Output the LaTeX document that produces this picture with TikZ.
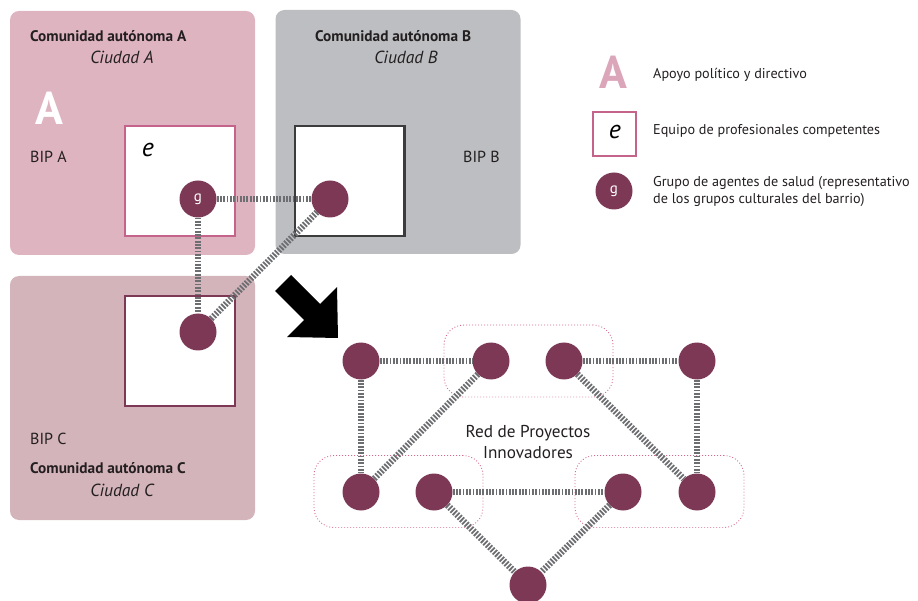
\documentclass[tikz,border=0pt]{standalone}
\usepackage{fontspec}
\setmainfont{PT Sans}
\definecolor{regA}{HTML}{DFB4C1}
\definecolor{regB}{HTML}{BDBEC1}
\definecolor{regC}{HTML}{D4B4BB}
\definecolor{agent}{HTML}{7D3855}
\definecolor{pinkline}{HTML}{C4648A}
\definecolor{darkline}{HTML}{3C3C3C}
\definecolor{legA}{HTML}{DBA6B9}
\definecolor{dotpink}{HTML}{D46A8A}
\definecolor{hatchgray}{HTML}{6D6E71}
\definecolor{txt}{HTML}{231F20}
\begin{document}
\begin{tikzpicture}[x=1pt,y=-1pt,
  region/.style={rounded corners=9pt, minimum width=245pt, minimum height=244pt, inner sep=0pt},
  team/.style={draw, line width=2.5pt, fill=white, minimum width=110pt, minimum height=110pt, inner sep=0pt},
  agent/.style={circle, fill=agent, minimum size=37pt, inner sep=0pt, text=white, font=\fontsize{15}{15}\selectfont},
  hatch/.style={draw=hatchgray, line width=6.5pt, dash pattern=on 1.8pt off 1.5pt},
  group/.style={draw=dotpink, line width=0.9pt, dash pattern=on 0.9pt off 2.1pt, rounded corners=20pt, minimum width=169pt, minimum height=72pt, inner sep=0pt},
  title/.style={font=\fontsize{15.3}{15.3}\selectfont\bfseries, text=txt, inner sep=0pt},
  city/.style={font=\fontsize{17.5}{17.5}\selectfont\itshape, text=txt, inner sep=0pt},
  lbl/.style={font=\fontsize{16}{16}\selectfont, text=txt, inner sep=0pt},
  leg/.style={font=\fontsize{14.2}{17}\selectfont, text=txt, inner sep=0pt, align=left},
  bigA/.style={font=\fontsize{46}{46}\selectfont\bfseries, inner sep=0pt},
  eletter/.style={font=\fontsize{26}{26}\selectfont\itshape, text=black, inner sep=0pt}
]
\useasboundingbox (0,0) rectangle (918,601);
% regions
\node[region, fill=regA] (rA) at (132.5,133) {};
\node[region, fill=regB] (rB) at (398,132) {};
\node[region, fill=regC] (rC) at (132.5,398) {};
% teams
\node[team, draw=pinkline] (tA) at (180,181) {};
\node[team, draw=darkline, minimum width=109.5pt] (tB) at (349.5,181) {};
\node[team, draw=agent] (tC) at (180,351) {};
% texts in regions
\node[title, anchor=west] (cA) at (30,36) {Comunidad autónoma A};
\node[city] (ciA) at (122,57) {Ciudad A};
\node[bigA, text=white] (AA) at (49,108) {A};
\node[lbl, anchor=west] (bipA) at (30,157) {BIP A};
\node[eletter] (eA) at (148,150) {e};
\node[title, anchor=west] (cB) at (315,36) {Comunidad autónoma B};
\node[city] (ciB) at (406,57) {Ciudad B};
\node[lbl, anchor=west] (bipB) at (463,157) {BIP B};
\node[lbl, anchor=west] (bipC) at (30,439) {BIP C};
\node[title, anchor=west] (cC) at (30,468) {Comunidad autónoma C};
\node[city] (ciC) at (122,490) {Ciudad C};
% agents in regions
\node[agent] (gA) at (198,199) {g};
\node[agent] (gB) at (330,199) {};
\node[agent] (gC) at (198,332) {};
\draw[hatch] (gA) -- (gB);
\draw[hatch] (gA) -- (gC);
\draw[hatch] (gC) -- (gB);
% big arrow
\fill[black] (275,291) -- (291,275) -- (320,304) -- (337,287) -- (338,338) -- (287,337) -- (304,320) -- cycle;
% network groups
\node[group] (grp1) at (528.5,361) {};
\node[group] (grp2) at (398.5,491.5) {};
\node[group] (grp3) at (659.5,491.5) {};
% network nodes
\node[agent] (n1) at (361,361) {};
\node[agent] (n2) at (491,361) {};
\node[agent] (n3) at (564,361) {};
\node[agent] (n4) at (697,361) {};
\node[agent] (n5) at (361,492) {};
\node[agent] (n6) at (434,492) {};
\node[agent] (n7) at (623,492) {};
\node[agent] (n8) at (697,492) {};
\node[agent] (n9) at (528,585) {};
\draw[hatch] (n1) -- (n2);
\draw[hatch] (n3) -- (n4);
\draw[hatch] (n1) -- (n5);
\draw[hatch] (n4) -- (n8);
\draw[hatch] (n2) -- (n5);
\draw[hatch] (n3) -- (n8);
\draw[hatch] (n6) -- (n7);
\draw[hatch] (n6) -- (n9);
\draw[hatch] (n7) -- (n9);
\node[font=\fontsize{17.2}{21}\selectfont, text=txt, align=center, inner sep=0pt] (red) at (528,442) {Red de Proyectos\\Innovadores};
% legend
\node[bigA, text=legA] (legAA) at (613,72) {A};
\node[leg, anchor=west] (legAt) at (653,75) {Apoyo político y directivo};
\node[team, draw=pinkline, minimum width=43pt, minimum height=44pt] (legE) at (614.5,134) {};
\node[eletter] (legEe) at (615,132) {e};
\node[leg, anchor=west] (legEt) at (653,131) {Equipo de profesionales competentes};
\node[agent] (legG) at (614,191) {g};
\node[leg, anchor=west] (legGt) at (653,192) {Grupo de agentes de salud (representativo\\de los grupos culturales del barrio)};
\end{tikzpicture}
\end{document}
